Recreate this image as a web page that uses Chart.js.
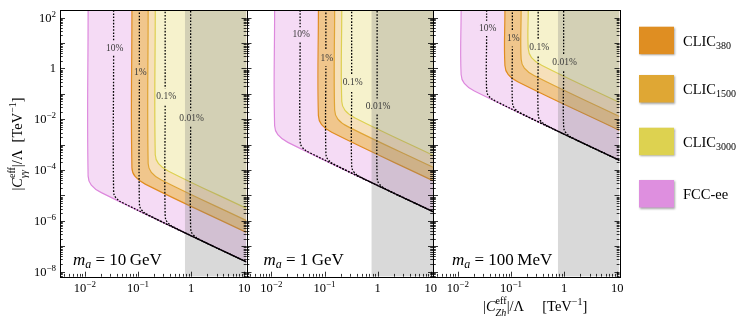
<!DOCTYPE html>
<html>
<head>
<meta charset="utf-8">
<script src="https://cdn.jsdelivr.net/npm/chart.js@4.4.1/dist/chart.umd.min.js"></script>
<style>
  html, body { margin: 0; padding: 0; background: #fff; }
  #wrap { position: relative; width: 747px; height: 324px; }
  #wrap canvas { position: absolute; left: 0; top: 0; }
</style>
</head>
<body>
<div id="wrap">
  <canvas id="p1" width="747" height="324"></canvas>
  <canvas id="p2" width="747" height="324"></canvas>
  <canvas id="p3" width="747" height="324"></canvas>
</div>
<script>
// ---------------------------------------------------------------
// axes
// ---------------------------------------------------------------
const xMin = 0.0034, xMax = 11;
const yMin = 6.3e-9, yMax = 200;

const xLabelVals = [0.01, 0.1, 1, 10];
const xLabels = [["10", "−2"], ["10", "−1"], ["1", ""], ["10", ""]];
const yLabelVals = [1e-8, 1e-6, 1e-4, 1e-2, 1, 1e2];
const yLabels = [["10", "−8"], ["10", "−6"], ["10", "−4"], ["10", "−2"], ["1", ""], ["10", "2"]];

const massLabels = [["10", "GeV"], ["1", "GeV"], ["100", "MeV"]];
const legendNames = [["CLIC", "380"], ["CLIC", "1500"], ["CLIC", "3000"], ["FCC-ee", ""]];
const contourNames = ["10%", "1%", "0.1%", "0.01%"];
const contourX = [0.0347, 0.106, 0.324, 0.977];
const grayStart = 0.76;

// ---------------------------------------------------------------
// sensitivity regions (lower/left boundary)
// ---------------------------------------------------------------
// m_a = 10 GeV
const fcc1  = [[0.0115, 200], [0.0115, 5.75e-5], [0.0132, 2.57e-5], [0.0204, 1.29e-5], [11, 2.4e-8]];
const c380a = [[0.0767, 200], [0.0767, 1.24e-4], [0.0881, 5.56e-5], [0.1365, 2.79e-5], [11, 3.46e-7]];
const c1500a = [[0.155, 200], [0.155, 1.82e-4], [0.178, 8.13e-5], [0.275, 4.07e-5], [11, 1.02e-6]];
const c3000a = [[0.211, 200], [0.211, 4.03e-4], [0.243, 1.8e-4], [0.376, 9.0e-5], [11, 3.08e-6]];
// m_a = 1 GeV
const fcc2  = [[0.0115, 200], [0.0115, 5.5e-3], [0.0132, 2.45e-3], [0.0204, 1.23e-3], [11, 2.29e-6]];
const c380b = [[0.0767, 200], [0.0767, 0.01365], [0.0881, 6.1e-3], [0.1365, 3.05e-3], [11, 3.79e-5]];
const c1500b = [[0.155, 200], [0.155, 0.0229], [0.178, 0.0102], [0.275, 5.13e-3], [11, 1.285e-4]];
const c3000b = [[0.211, 200], [0.211, 0.0495], [0.243, 0.0221], [0.376, 0.0111], [11, 3.79e-4]];
// m_a = 100 MeV
const fcc3  = [[0.0115, 200], [0.0115, 0.575], [0.0132, 0.257], [0.0204, 0.129], [11, 2.4e-4]];
const c380c = [[0.0767, 200], [0.0767, 1.303], [0.0881, 0.582], [0.1365, 0.292], [11, 3.62e-3]];
const c1500c = [[0.155, 200], [0.155, 2.29], [0.178, 1.023], [0.275, 0.513], [11, 0.01285]];
const c3000c = [[0.211, 200], [0.211, 5.96], [0.243, 2.66], [0.376, 1.334], [11, 0.0456]];

// ---------------------------------------------------------------
// dotted contours (null = gap for the inline label)
// ---------------------------------------------------------------
const dots1 = [
  [[0.0347, 200], [0.0347, 12.4], [0.0347, null], [0.0347, 3.13], [0.0347, 1.51e-5], [0.038, 8.3e-6], [0.0537, 4.9e-6], [11, 2.39e-8]],
  [[0.106, 200], [0.106, 1.42], [0.106, null], [0.106, 0.356], [0.106, 4.95e-6], [0.116, 2.72e-6], [0.164, 1.6e-6], [11, 2.39e-8]],
  [[0.324, 200], [0.324, 0.158], [0.324, null], [0.324, 0.0398], [0.324, 1.62e-6], [0.355, 8.9e-7], [0.501, 5.25e-7], [11, 2.39e-8]],
  [[0.977, 200], [0.977, 0.0216], [0.977, null], [0.977, 5.43e-3], [0.977, 5.37e-7], [1.072, 2.95e-7], [1.514, 1.74e-7], [11, 2.39e-8]],
];
const dots2 = [
  [[0.0347, 200], [0.0347, 41.7], [0.0347, null], [0.0347, 10.5], [0.0347, 1.45e-3], [0.038, 7.9e-4], [0.0537, 4.7e-4], [11, 2.29e-6]],
  [[0.106, 200], [0.106, 5.0], [0.106, null], [0.106, 1.26], [0.106, 4.73e-4], [0.116, 2.6e-4], [0.164, 1.53e-4], [11, 2.29e-6]],
  [[0.324, 200], [0.324, 0.55], [0.324, null], [0.324, 0.138], [0.324, 1.55e-4], [0.355, 8.5e-5], [0.501, 5.0e-5], [11, 2.29e-6]],
  [[0.977, 200], [0.977, 0.066], [0.977, null], [0.977, 0.0166], [0.977, 5.13e-5], [1.072, 2.82e-5], [1.514, 1.66e-5], [11, 2.29e-6]],
];
const dots3 = [
  [[0.0347, 200], [0.0347, 75.9], [0.0347, null], [0.0347, 19.1], [0.0347, 0.151], [0.038, 0.083], [0.0537, 0.049], [11, 2.39e-4]],
  [[0.106, 200], [0.106, 29.1], [0.106, null], [0.106, 7.31], [0.106, 0.0495], [0.116, 0.0272], [0.164, 0.016], [11, 2.39e-4]],
  [[0.324, 200], [0.324, 13.6], [0.324, null], [0.324, 3.42], [0.324, 0.0162], [0.355, 8.9e-3], [0.501, 5.25e-3], [11, 2.39e-4]],
  [[0.977, 200], [0.977, 3.33], [0.977, null], [0.977, 0.836], [0.977, 5.37e-3], [1.072, 2.95e-3], [1.514, 1.74e-3], [11, 2.39e-4]],
];
// label heights of the contour labels
const labelY1 = [6.2, 0.71, 0.079, 0.0108];
const labelY2 = [20.9, 2.5, 0.275, 0.033];
const labelY3 = [38, 14.6, 6.8, 1.67];

// ---------------------------------------------------------------
// styles
// ---------------------------------------------------------------
const SERIF = '"Liberation Serif", "DejaVu Serif", serif';
const fills = ["rgb(245,219,245)", "rgb(240,198,140)", "rgb(246,224,186)", "rgb(246,242,204)"];
const edges = ["#dd88dd", "#e08c20", "#e0a535", "#ddd050"];
const legendColors = ["#df8e22", "#dfa734", "#ddd250", "#de8fdf"];
const panelEdges = [[60, 246.5], [246.5, 433], [433, 619.5]];
const plotTop = 10, plotBottom = 276.7;

const pts = arr => arr.map(p => ({ x: p[0], y: p[1] }));

function fontOf(r) {
  return (r.it ? "italic " : "") + r.s + "px " + SERIF;
}

// draw a row of text pieces; piece = {t, s, dy, it} or {sup, sub, s}
function drawRuns(ctx, runs, x, y, align) {
  const widths = runs.map(r => {
    ctx.font = fontOf(r);
    if (r.sup !== undefined) {
      return Math.max(ctx.measureText(r.sup).width, ctx.measureText(r.sub).width);
    }
    return ctx.measureText(r.t).width;
  });
  const total = widths.reduce((a, b) => a + b, 0);
  let cx = align === "center" ? x - total / 2 : align === "right" ? x - total : x;
  ctx.textAlign = "left";
  ctx.textBaseline = "alphabetic";
  runs.forEach((r, i) => {
    ctx.font = fontOf(r);
    if (r.sup !== undefined) {
      ctx.fillText(r.sup, cx, y - r.s * 0.75);
      ctx.font = fontOf({ s: r.s, it: true });
      ctx.fillText(r.sub, cx, y + r.s * 0.45);
    } else {
      ctx.fillText(r.t, cx, y + (r.dy || 0));
    }
    cx += widths[i];
  });
}

const panelPlugin = {
  id: "panelDecor",
  afterDatasetsDraw(chart, args, opts) {
    const { ctx, chartArea: a } = chart;
    const x = chart.scales.x, y = chart.scales.y;
    const i = opts.panel;
    ctx.save();

    // contour labels
    ctx.fillStyle = "#3a3a3a";
    ctx.font = "9.5px " + SERIF;
    ctx.textAlign = "center";
    ctx.textBaseline = "middle";
    opts.labelY.forEach((ly, k) => {
      ctx.fillText(contourNames[k], x.getPixelForValue(contourX[k]) + 1, y.getPixelForValue(ly));
    });

    // frame
    ctx.strokeStyle = "#000";
    ctx.lineWidth = 1;
    ctx.strokeRect(Math.round(a.left) + 0.5, Math.round(a.top) + 0.5,
      Math.round(a.right) - Math.round(a.left), Math.round(a.bottom) - Math.round(a.top));

    // inward ticks
    ctx.lineWidth = 0.8;
    ctx.beginPath();
    for (let e = -9; e <= 2; e++) {
      for (let m = 1; m <= 9; m++) {
        const v = m * Math.pow(10, e);
        if (v < yMin || v > yMax) continue;
        const p = Math.round(y.getPixelForValue(v)) + 0.5;
        const len = m === 1 ? 5 : 2.8;
        ctx.moveTo(a.left, p); ctx.lineTo(a.left + len, p);
        ctx.moveTo(a.right, p); ctx.lineTo(a.right - len, p);
      }
    }
    for (let e = -3; e <= 1; e++) {
      for (let m = 1; m <= 9; m++) {
        const v = m * Math.pow(10, e);
        if (v < xMin || v > xMax) continue;
        const p = Math.round(x.getPixelForValue(v)) + 0.5;
        const len = m === 1 ? 5 : 2.8;
        ctx.moveTo(p, a.bottom); ctx.lineTo(p, a.bottom - len);
      }
    }
    ctx.stroke();

    // x tick labels
    ctx.fillStyle = "#000";
    xLabelVals.forEach((v, k) => {
      const runs = [{ t: xLabels[k][0], s: 12.5 }];
      if (xLabels[k][1]) runs.push({ t: xLabels[k][1], s: 9, dy: -5 });
      drawRuns(ctx, runs, x.getPixelForValue(v), 292, "center");
    });

    // y tick labels (first panel only)
    if (i === 0) {
      yLabelVals.forEach((v, k) => {
        const runs = [{ t: yLabels[k][0], s: 12.5 }];
        if (yLabels[k][1]) runs.push({ t: yLabels[k][1], s: 9, dy: -5 });
        drawRuns(ctx, runs, a.left - 4, y.getPixelForValue(v) + 4, "right");
      });
      // y axis title
      ctx.save();
      ctx.translate(22, 144);
      ctx.rotate(-Math.PI / 2);
      drawRuns(ctx, [
        { t: "|", s: 14.5 }, { t: "C", s: 14.5, it: true }, { sup: "eff", sub: "γγ", s: 10 },
        { t: "|/Λ  [TeV", s: 14.5 }, { t: "−1", s: 10, dy: -6 }, { t: "]", s: 14.5 },
      ], 0, 0, "center");
      ctx.restore();
    }

    // mass label
    const ml = massLabels[i];
    drawRuns(ctx, [
      { t: "m", s: 17, it: true }, { t: "a", s: 12, dy: 3, it: true },
      { t: " = " + ml[0] + "\u2009" + ml[1], s: 17 },
    ], a.left + opts.massOffset, 265, "left");

    if (i === 2) {
      // x axis title
      drawRuns(ctx, [
        { t: "|", s: 14.5 }, { t: "C", s: 14.5, it: true }, { sup: "eff", sub: "Zh", s: 10 },
        { t: "|/Λ     [TeV", s: 14.5 }, { t: "−1", s: 10, dy: -6 }, { t: "]", s: 14.5 },
      ], 483, 311, "left");

      // legend
      const boxTops = [26.7, 75, 127.7, 180];
      boxTops.forEach((t, k) => {
        ctx.save();
        ctx.shadowColor = "rgba(0,0,0,0.35)";
        ctx.shadowBlur = 2;
        ctx.shadowOffsetX = 1;
        ctx.shadowOffsetY = 1;
        ctx.fillStyle = legendColors[k];
        ctx.fillRect(639, t, 35, 27.5);
        ctx.restore();
        const runs = [{ t: legendNames[k][0], s: 14.5 }];
        if (legendNames[k][1]) runs.push({ t: legendNames[k][1], s: 10, dy: 3 });
        ctx.fillStyle = "#000";
        drawRuns(ctx, runs, 683, t + 19, "left");
      });
    }
    ctx.restore();
  },
};

function makePanel(id, i, regions, dots, labelY, massOffset) {
  const datasets = [];
  regions.forEach((r, k) => {
    datasets.push({
      data: pts(r),
      fill: "end",
      backgroundColor: fills[k],
      borderColor: edges[k],
      borderWidth: 1.2,
      tension: 0.4,
      order: 10 - k,
    });
  });
  datasets.push({
    data: pts([[grayStart, yMin], [xMax, yMin]]),
    fill: "end",
    backgroundColor: "rgba(128,128,128,0.3)",
    borderColor: "transparent",
    borderWidth: 0,
    order: 5,
  });
  dots.forEach((d, k) => {
    datasets.push({
      data: pts(d),
      fill: false,
      borderColor: "#000",
      borderWidth: 1.3,
      borderDash: [1.6, 1.6],
      borderDashOffset: k * 0.8,
      tension: 0.4,
      order: 1,
    });
  });
  const [L, R] = panelEdges[i];
  return new Chart(document.getElementById(id), {
    type: "line",
    data: { datasets },
    options: {
      responsive: false,
      animation: false,
      devicePixelRatio: 1,
      layout: { padding: { left: L, right: 747 - R, top: plotTop, bottom: 324 - plotBottom } },
      elements: { point: { radius: 0 } },
      scales: {
        x: { type: "logarithmic", min: xMin, max: xMax, display: false },
        y: { type: "logarithmic", min: yMin, max: yMax, display: false },
      },
      plugins: {
        legend: { display: false },
        tooltip: { enabled: false },
        panelDecor: { panel: i, labelY, massOffset },
      },
    },
    plugins: [panelPlugin],
  });
}

makePanel("p1", 0, [fcc1, c380a, c1500a, c3000a], dots1, labelY1, 13);
makePanel("p2", 1, [fcc2, c380b, c1500b, c3000b], dots2, labelY2, 17);
makePanel("p3", 2, [fcc3, c380c, c1500c, c3000c], dots3, labelY3, 19);
</script>
</body>
</html>
